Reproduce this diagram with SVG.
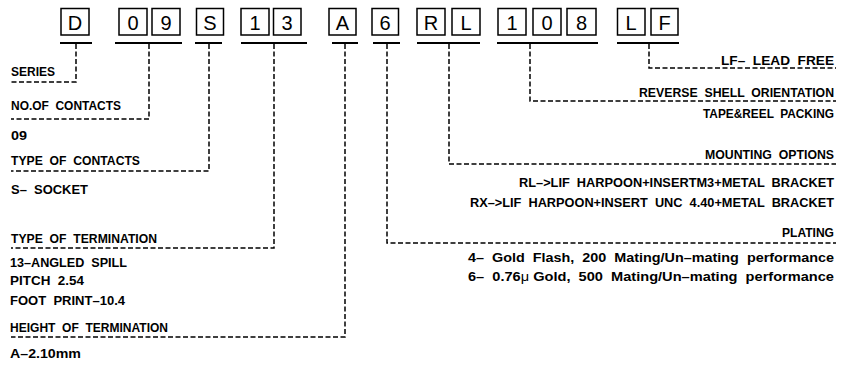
<svg xmlns="http://www.w3.org/2000/svg" width="843" height="365" viewBox="0 0 843 365">
<style>
.bx{fill:#fff;stroke:#000;stroke-width:1.5}
.ch{font-family:"Liberation Sans",Arial,sans-serif;font-size:20px;text-anchor:middle;fill:#000}
.ul{stroke:#000;stroke-width:2;fill:none}
.ds{stroke:#000;stroke-width:1.5;fill:none;stroke-dasharray:5 2.5}
.t{font-family:"Liberation Sans",Arial,sans-serif;font-size:13px;font-weight:bold;fill:#000;white-space:pre}
.r{text-anchor:end}
.mu{font-weight:normal}
</style>
<rect width="843" height="365" fill="#fff"/>
<g id="code">
<g id="box-D"><rect class="bx" x="61" y="8.5" width="28" height="26.5"/><text class="ch" x="75" y="29.5">D</text></g>
<g id="box-0a"><rect class="bx" x="119" y="8.5" width="28" height="26.5"/><text class="ch" x="133" y="29.5">0</text></g>
<g id="box-9"><rect class="bx" x="152" y="8.5" width="28" height="26.5"/><text class="ch" x="166" y="29.5">9</text></g>
<g id="box-S"><rect class="bx" x="196.5" y="8.5" width="27" height="26.5"/><text class="ch" x="210" y="29.5">S</text></g>
<g id="box-1a"><rect class="bx" x="241" y="8.5" width="28" height="26.5"/><text class="ch" x="255" y="29.5">1</text></g>
<g id="box-3"><rect class="bx" x="273.5" y="8.5" width="27.5" height="26.5"/><text class="ch" x="287" y="29.5">3</text></g>
<g id="box-A"><rect class="bx" x="329" y="8.5" width="27" height="26.5"/><text class="ch" x="342.5" y="29.5">A</text></g>
<g id="box-6"><rect class="bx" x="372" y="8.5" width="26.5" height="26.5"/><text class="ch" x="385" y="29.5">6</text></g>
<g id="box-R"><rect class="bx" x="417" y="8.5" width="28" height="26.5"/><text class="ch" x="431" y="29.5">R</text></g>
<g id="box-L"><rect class="bx" x="452" y="8.5" width="28" height="26.5"/><text class="ch" x="466" y="29.5">L</text></g>
<g id="box-1b"><rect class="bx" x="498" y="8.5" width="28" height="26.5"/><text class="ch" x="512" y="29.5">1</text></g>
<g id="box-0b"><rect class="bx" x="533" y="8.5" width="28" height="26.5"/><text class="ch" x="547" y="29.5">0</text></g>
<g id="box-8"><rect class="bx" x="567" y="8.5" width="29" height="26.5"/><text class="ch" x="581.5" y="29.5">8</text></g>
<g id="box-L2"><rect class="bx" x="617.5" y="8.5" width="27.5" height="26.5"/><text class="ch" x="631" y="29.5">L</text></g>
<g id="box-F"><rect class="bx" x="651" y="8.5" width="27" height="26.5"/><text class="ch" x="664.5" y="29.5">F</text></g>
</g>
<g id="underlines">
<line class="ul" x1="60" y1="43" x2="92" y2="43"/>
<line class="ul" x1="115" y1="43" x2="182" y2="43"/>
<line class="ul" x1="195" y1="43" x2="222" y2="43"/>
<line class="ul" x1="241" y1="43" x2="307" y2="43"/>
<line class="ul" x1="332" y1="43" x2="358" y2="43"/>
<line class="ul" x1="373" y1="43" x2="400" y2="43"/>
<line class="ul" x1="417" y1="43" x2="480" y2="43"/>
<line class="ul" x1="497" y1="43" x2="598" y2="43"/>
<line class="ul" x1="617" y1="43" x2="679" y2="43"/>
</g>
<g id="connectors">
<polyline class="ds" points="76,44 76,82 11,82"/>
<polyline class="ds" points="149,44 149,119 11,119"/>
<polyline class="ds" points="209,44 209,171 11,171"/>
<polyline class="ds" points="274,44 274,248 11,248"/>
<polyline class="ds" points="345,44 345,337 11,337"/>
<polyline class="ds" points="387,44 387,243 836,243"/>
<polyline class="ds" points="449,44 449,164 836,164"/>
<polyline class="ds" points="530,44 530,101 836,101"/>
<polyline class="ds" points="649,44 649,68 836,68"/>
</g>
<g id="left-labels">
<text class="t" x="11" y="76" textLength="44" lengthAdjust="spacingAndGlyphs">SERIES</text>
<text class="t" x="11" y="110" textLength="110" lengthAdjust="spacingAndGlyphs">NO.OF  CONTACTS</text>
<text class="t" x="11" y="140" textLength="16" lengthAdjust="spacingAndGlyphs">09</text>
<text class="t" x="11" y="165" textLength="129" lengthAdjust="spacingAndGlyphs">TYPE  OF  CONTACTS</text>
<text class="t" x="11" y="194" textLength="77" lengthAdjust="spacingAndGlyphs">S–  SOCKET</text>
<text class="t" x="11" y="243" textLength="146" lengthAdjust="spacingAndGlyphs">TYPE  OF  TERMINATION</text>
<text class="t" x="10" y="267" textLength="117" lengthAdjust="spacingAndGlyphs">13–ANGLED  SPILL</text>
<text class="t" x="10" y="285" textLength="74" lengthAdjust="spacingAndGlyphs">PITCH  2.54</text>
<text class="t" x="10" y="305" textLength="115" lengthAdjust="spacingAndGlyphs">FOOT  PRINT–10.4</text>
<text class="t" x="10" y="332" textLength="158" lengthAdjust="spacingAndGlyphs">HEIGHT  OF  TERMINATION</text>
<text class="t" x="10" y="358" textLength="71" lengthAdjust="spacingAndGlyphs">A–2.10mm</text>
</g>
<g id="right-labels">
<text class="t r" x="834" y="65" textLength="113" lengthAdjust="spacingAndGlyphs">LF–  LEAD  FREE</text>
<text class="t r" x="834" y="97" textLength="195" lengthAdjust="spacingAndGlyphs">REVERSE  SHELL  ORIENTATION</text>
<text class="t r" x="834" y="118" textLength="131" lengthAdjust="spacingAndGlyphs">TAPE&amp;REEL  PACKING</text>
<text class="t r" x="834" y="159" textLength="129" lengthAdjust="spacingAndGlyphs">MOUNTING  OPTIONS</text>
<text class="t r" x="834" y="187" textLength="315" lengthAdjust="spacingAndGlyphs">RL–&gt;LIF  HARPOON+INSERTM3+METAL  BRACKET</text>
<text class="t r" x="834" y="207" textLength="364" lengthAdjust="spacingAndGlyphs">RX–&gt;LIF  HARPOON+INSERT  UNC  4.40+METAL  BRACKET</text>
<text class="t r" x="834" y="237" textLength="52" lengthAdjust="spacingAndGlyphs">PLATING</text>
<text class="t r" x="834" y="262" textLength="366" lengthAdjust="spacingAndGlyphs">4–  Gold  Flash,  200  Mating/Un–mating  performance</text>
<text class="t r" x="834" y="281" textLength="366" lengthAdjust="spacingAndGlyphs">6–  0.76<tspan class="mu">μ</tspan> Gold,  500  Mating/Un–mating  performance</text>
</g>
</svg>
